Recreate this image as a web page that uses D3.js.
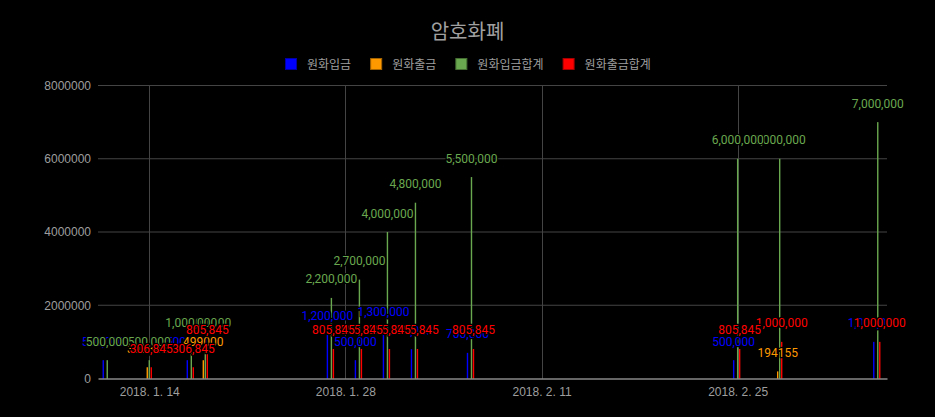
<!DOCTYPE html>
<html>
<head>
<meta charset="utf-8">
<script src="https://cdn.jsdelivr.net/npm/d3@7"></script>
<style>
  html, body { margin: 0; padding: 0; background: #000; }
  svg { display: block; font-family: Roboto, 'Noto Sans CJK KR', sans-serif; }
</style>
</head>
<body>
<div class="chart"></div>
<script>
(function(){
    // 날짜별 값
    const dates = ['2018-01-11', '2018-01-14', '2018-01-17', '2018-01-18', '2018-01-27', '2018-01-29',
                   '2018-01-31', '2018-02-02', '2018-02-06', '2018-02-25', '2018-02-28', '2018-03-07'];
    const deposit = [500000, null, 500000, null, 1200000, 500000, 1300000, 800000, 700000, 500000, null, 1000000];
    const withdraw = [null, 306845, null, 499000, null, null, null, null, null, null, 194155, null];
    const depositSum = [500000, 500000, 1000000, 1000000, 2200000, 2700000, 4000000, 4800000, 5500000, 6000000, 6000000, 7000000];
    const withdrawSum = [null, 306845, 306845, 805845, 805845, 805845, 805845, 805845, 805845, 805845, 1000000, 1000000];
    const seriesNames = ['원화입금', '원화출금', '원화입금합계', '원화출금합계'];
    const seriesColors = ['#0000ff', '#ff9900', '#6aa84f', '#ff0000'];
    const xTickLabels = ['2018-01-14', '2018-01-28', '2018-02-11', '2018-02-25'];
    const yTicks = [0, 2000000, 4000000, 6000000, 8000000];

    const parseDate = d3.timeParse('%Y-%m-%d');
    const comma = d3.format(',');
    const plain = d3.format('d');

    const series = [
        { name: seriesNames[0], color: seriesColors[0], values: deposit, fmt: comma, offset: -4 },
        { name: seriesNames[1], color: seriesColors[1], values: withdraw, fmt: plain, offset: -2 },
        { name: seriesNames[2], color: seriesColors[2], values: depositSum, fmt: comma, offset: 0 },
        { name: seriesNames[3], color: seriesColors[3], values: withdrawSum, fmt: comma, offset: 2 }
    ].map(s => ({
        ...s,
        points: s.values.map((v, i) => ({ date: parseDate(dates[i]), value: v })).filter(d => d.value != null)
    }));

    const svg_width = 935, svg_height = 417;
    const m = { top: 85.5, right: 48, bottom: 38.5, left: 98 };
    const w = svg_width - m.left - m.right;
    const h = svg_height - m.top - m.bottom;

    const svg = d3.select('.chart').append('svg')
        .attr('width', svg_width).attr('height', svg_height);
    svg.append('rect').attr('width', svg_width).attr('height', svg_height).attr('fill', '#000');

    const g = svg.append('g').attr('transform', `translate(${m.left},${m.top})`);

    const xScale = d3.scaleTime()
        .domain([new Date(2018, 0, 10, 8, 10), new Date(2018, 2, 7, 15, 50)])
        .range([0, w]);
    const yScale = d3.scaleLinear().domain([0, 8000000]).range([h, 0]);

    const xTicks = xTickLabels.map(parseDate);

    // 그리드
    g.append('g').attr('class', 'grid-y')
        .selectAll('line').data(yTicks.filter(d => d > 0)).enter()
        .append('line')
        .attr('x1', 0).attr('x2', w)
        .attr('y1', d => yScale(d)).attr('y2', d => yScale(d))
        .attr('stroke', '#444');
    g.append('g').attr('class', 'grid-x')
        .selectAll('line').data(xTicks).enter()
        .append('line')
        .attr('x1', d => Math.round(xScale(d)) + 0.5).attr('x2', d => Math.round(xScale(d)) + 0.5)
        .attr('y1', 0).attr('y2', h)
        .attr('stroke', '#444');

    // 막대
    const barW = 1.4;
    series.forEach(s => {
        g.append('g').attr('class', 'bars')
            .selectAll('rect').data(s.points).enter()
            .append('rect')
            .attr('x', d => xScale(d.date) + s.offset - barW / 2)
            .attr('y', d => yScale(d.value))
            .attr('width', barW)
            .attr('height', d => h - yScale(d.value))
            .attr('fill', s.color);
    });

    // X축
    const xAxis = d3.axisBottom(xScale).tickValues(xTicks)
        .tickFormat(d3.timeFormat('%Y. %-m. %-d'))
        .tickSize(0).tickPadding(9);
    const xg = g.append('g').attr('transform', `translate(0,${h})`).call(xAxis);
    xg.select('.domain').attr('stroke', '#ccc');
    xg.selectAll('text').attr('fill', '#9e9e9e').style('font-size', '12px');

    // Y축
    const yAxis = d3.axisLeft(yScale).tickValues(yTicks).tickFormat(plain)
        .tickSize(0).tickPadding(7);
    const yg = g.append('g').call(yAxis);
    yg.select('.domain').remove();
    yg.selectAll('text').attr('fill', '#9e9e9e').style('font-size', '12px');

    // 값 라벨 (시리즈 안에서는 앞 날짜가 위에 오도록 역순으로)
    series.forEach(s => {
        g.append('g').attr('class', 'labels')
            .selectAll('text').data(s.points.slice().reverse()).enter()
            .append('text')
            .attr('x', d => xScale(d.date) + s.offset)
            .attr('y', d => yScale(d.value) - 14.5)
            .attr('text-anchor', 'middle')
            .style('font-size', '12px')
            .attr('fill', s.color)
            .attr('stroke', '#000').attr('stroke-width', 2.5)
            .attr('paint-order', 'stroke')
            .text(d => s.fmt(d.value));
    });

    // 제목
    svg.append('text')
        .attr('x', svg_width / 2).attr('y', 39)
        .attr('text-anchor', 'middle')
        .style('font-family', "'Noto Sans CJK KR', sans-serif")
        .style('font-size', '20px')
        .attr('fill', '#a0a0a0')
        .text('암호화폐');

    // 범례
    const legend = svg.append('g').attr('class', 'legend');
    let lx = 0;
    series.forEach(s => {
        const item = legend.append('g').attr('transform', `translate(${lx},0)`);
        item.append('rect').attr('x', 0.5).attr('y', 58.5).attr('width', 11).attr('height', 11)
            .attr('fill', s.color).attr('stroke', d3.color(s.color).darker(1.2));
        const t = item.append('text').attr('x', 22).attr('y', 68.5)
            .style('font-size', '12px').attr('fill', '#9e9e9e').text(s.name);
        lx += 22 + t.node().getComputedTextLength() + 19;
    });
    const legendW = lx - 19;
    legend.attr('transform', `translate(${Math.round((svg_width - legendW) / 2)},0)`);
})();
</script>
</body>
</html>
